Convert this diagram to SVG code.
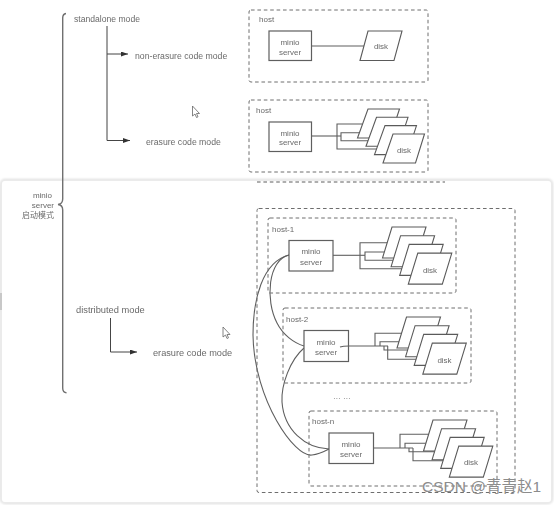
<svg xmlns="http://www.w3.org/2000/svg" width="554" height="505" viewBox="0 0 554 505">
<style>
text{font-family:"Liberation Sans","Noto Sans CJK SC",sans-serif;fill:#6a6a6a;font-size:8px}
.m{text-anchor:middle}.e{text-anchor:end}
.dash{fill:none;stroke:#6e6e6e;stroke-width:1;stroke-dasharray:3.6 2.8}
.box{fill:#fff;stroke:#5f5f5f;stroke-width:1.2}
.ln{fill:none;stroke:#5f5f5f;stroke-width:1.1}
.arr{fill:none;stroke:#444;stroke-width:1}
.disk{fill:#fff;stroke:#5a5a5a;stroke-width:1.1}
.wm{fill:#8c8c8c;font-size:15.500px}
</style>
<defs>
<filter id="soft" x="0" y="0" width="100%" height="100%" filterUnits="userSpaceOnUse"><feGaussianBlur stdDeviation="0.4"/></filter>
<filter id="shade" x="-5%" y="-5%" width="110%" height="110%"><feGaussianBlur stdDeviation="1.2"/></filter>
<marker id="ah" markerWidth="8" markerHeight="6" refX="7" refY="2.5" orient="auto" markerUnits="userSpaceOnUse"><path d="M0,0L7,2.5L0,5Z" fill="#333"/></marker>
<g id="stackS">
<path class="ln" d="M362,124H337V149H380"/>
<path class="ln" d="M365,132.700H341V140.700H372"/>
<polygon class="disk" points="368,109 399.500,109 390,138 357.500,138"/>
<polygon class="disk" points="376.500,117.300 408,117.300 398.500,146.300 366,146.300"/>
<polygon class="disk" points="385,125.600 416.500,125.600 407,154.600 374.500,154.600"/>
<polygon class="disk" points="393,134 424.500,134 415.500,163 383,163"/>
</g>
<g id="stackL">
<polygon class="disk" points="392,227 426,227 416.500,258 382.500,258"/>
<polygon class="disk" points="400.600,235.700 434.600,235.700 425.100,266.700 391.100,266.700"/>
<polygon class="disk" points="409.200,244.400 443.200,244.400 433.700,275.400 399.700,275.400"/>
<polygon class="disk" points="417.800,253.100 451.800,253.100 442.300,284.100 408.300,284.100"/>
</g>
</defs>
<rect width="554" height="505" fill="#fff"/>
<g filter="url(#soft)">
<rect x="1" y="180" width="551" height="323" rx="4" fill="#fff" stroke="#dcdcdc" stroke-width="2" filter="url(#shade)"/>
<rect x="2" y="181" width="549" height="321" rx="3" fill="#fff"/>
<rect x="0" y="293" width="2" height="17" fill="#c8c8c8"/>
<path class="ln" style="stroke-dasharray:3.6 2.8" d="M257,182H445"/>

<g id="brace"><path d="M66,13.500Q62.700,14 62.700,18V199Q62.700,204 58,204.500Q62.700,205 62.700,210V388Q62.700,392.500 66.500,392.700" fill="none" stroke="#6f6f6f" stroke-width="1.4"/></g>

<g id="root-label">
<text class="e" x="52" y="198">minio</text>
<text class="e" x="54" y="207.500">server</text>
<text class="e" x="54" y="218">启动模式</text>
</g>
<g id="mode-standalone"><text x="74" y="22" style="font-size:8.600px">standalone mode</text></g>
<g id="mode-non-erasure"><text x="135" y="58.500" style="font-size:8.700px">non-erasure code mode</text></g>
<g id="mode-erasure-1"><text x="146" y="145" style="font-size:8.700px">erasure code mode</text></g>
<g id="mode-distributed"><text x="76" y="313" style="font-size:9.300px">distributed mode</text></g>
<g id="mode-erasure-2"><text x="153" y="356" style="font-size:9.200px">erasure code mode</text></g>

<g id="connectors">
<path class="arr" d="M107,26V140.500H130" marker-end="url(#ah)"/>
<path class="arr" d="M107,54H128" marker-end="url(#ah)"/>
<path class="arr" d="M110.500,318V352H137" marker-end="url(#ah)"/>
<path class="ln" d="M311.500,46H366"/>
<path class="ln" d="M311.500,136H341"/>
<path class="ln" d="M333,255.300H365"/>
<path class="ln" d="M349,346H388"/>
<path class="ln" d="M373,448H413"/>
<path class="ln" d="M360,255.300V242.700H390"/>
<path class="ln" d="M360,255.300V268.700H402"/>
<path class="ln" d="M365,255.300V252H390"/>
<path class="ln" d="M365,255.300V260.300H395"/>
<path class="ln" d="M375,346V333.300H405"/>
<path class="ln" d="M380,346V341.700H415"/>
<path class="ln" d="M384,346V350H415"/>
<path class="ln" d="M387.700,346V359.300H430"/>
<path class="ln" d="M400,448V434.300H432"/>
<path class="ln" d="M405,448V443.300H440"/>
<path class="ln" d="M409,448V451.700H440"/>
<path class="ln" d="M413,448V460.700H455"/>
<path class="ln" d="M289,255C268,260 265,300 277,323C283,335 294,343 304,346"/>
<path class="ln" d="M289,255C262,262 253,300 253,335C254,400 295,458 312,455C320,454 325,451 329,449"/>
<path class="ln" d="M304,348C290,360 281,385 282,402C284,430 305,448 329,449"/>
</g>

<g id="host-a">
<rect class="dash" x="249" y="10" width="179" height="72" rx="2"/>
<text x="259" y="22">host</text>
<rect class="box" x="269" y="31" width="42.500" height="29.500"/>
<text class="m" x="290" y="45">minio</text><text class="m" x="290" y="55">server</text>
<polygon class="disk" points="368,31 402,31 394,60.500 360,60.500"/>
<text class="m" x="381" y="49">disk</text>
</g>
<g id="host-b">
<rect class="dash" x="249" y="100" width="179" height="72" rx="2"/>
<text x="256" y="113">host</text>
<rect class="box" x="269" y="122" width="42.500" height="29.500"/>
<text class="m" x="290" y="136">minio</text><text class="m" x="290" y="145">server</text>
<use href="#stackS"/>
<text class="m" x="404" y="153">disk</text>
</g>
<rect class="dash" id="cluster" x="257" y="208.500" width="258" height="284" rx="2"/>
<g id="host-1">
<rect class="dash" x="268" y="218" width="188" height="75" rx="2"/>
<text x="272" y="232">host-1</text>
<rect class="box" x="289" y="240.500" width="44" height="30.500"/>
<text class="m" x="311" y="254">minio</text><text class="m" x="311" y="265">server</text>
<use href="#stackL"/>
<text class="m" x="430" y="273">disk</text>
</g>
<g id="host-2">
<rect class="dash" x="283" y="308" width="188" height="75" rx="2"/>
<text x="286" y="322">host-2</text>
<rect class="box" x="304" y="330.500" width="44.500" height="31"/>
<text class="m" x="326" y="344.500">minio</text><text class="m" x="326" y="355">server</text>
<path class="ln" d="M340,347C343,346 346,346 349,346"/>
<use href="#stackL" x="14.500" y="90"/>
<text class="m" x="444.500" y="363">disk</text>
</g>
<text class="m" id="more" x="342" y="399" style="letter-spacing:.3px">... ...</text>
<g id="host-n">
<rect class="dash" x="309" y="411" width="188" height="75" rx="2"/>
<text x="312" y="424">host-n</text>
<rect class="box" x="329" y="433" width="44.500" height="30.500"/>
<text class="m" x="351" y="447">minio</text><text class="m" x="351" y="457">server</text>
<use href="#stackL" x="41" y="193"/>
<text class="m" x="471" y="465">disk</text>
</g>
<g id="cursors" fill="#fff" stroke="#666" stroke-width=".8">
<path d="M192.500,106V116L195,114L196.500,117.500L198,116.800L196.500,113.500H199.500Z"/>
<path d="M223,327V337L225.500,335L227,338.500L228.500,337.800L227,334.500H230Z"/>
</g>
</g>
<text class="wm" x="422" y="492">CSDN @青青赵1</text>
</svg>
